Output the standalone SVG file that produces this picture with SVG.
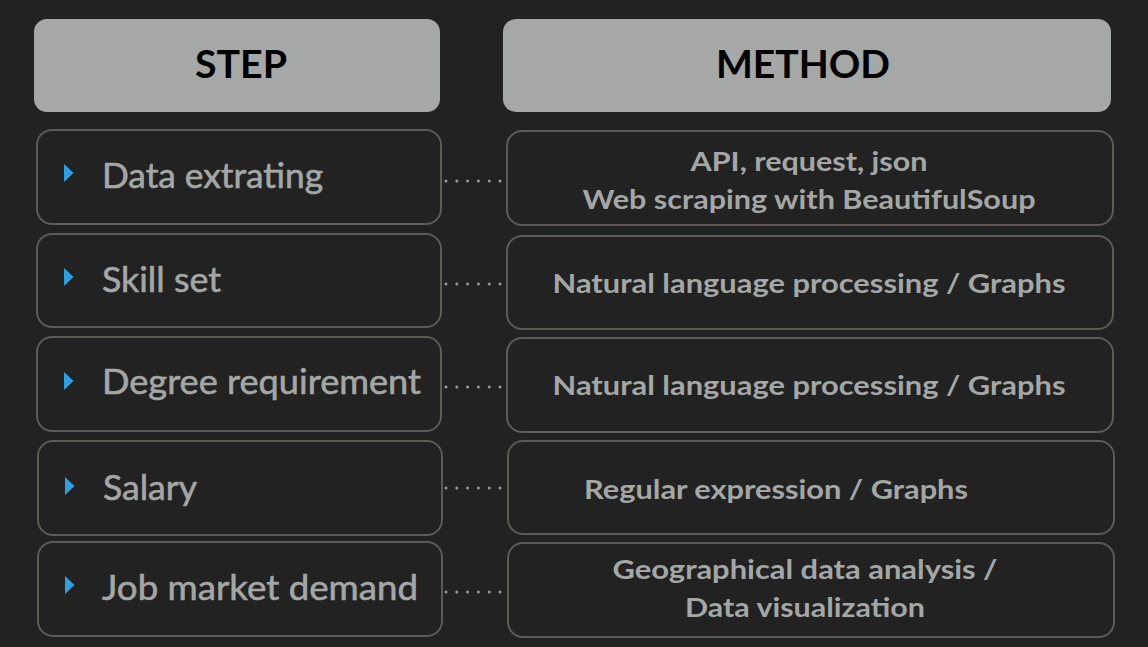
<svg xmlns="http://www.w3.org/2000/svg" width="1148" height="647" viewBox="0 0 1148 647">
<style>
.hdr{fill:#a5a8a7;}
.hdrt{font-family:Lato,"Noto Sans",sans-serif;font-weight:bold;font-size:39px;fill:#000;text-anchor:middle;}
.box{fill:#222222;stroke:#5e5a56;stroke-width:2;}
.st{font-family:Lato,"Noto Sans",sans-serif;font-size:35px;fill:#a4a7a6;stroke:#a4a7a6;stroke-width:0.6;}
.mt{font-family:Lato,"Noto Sans",sans-serif;font-weight:bold;font-size:27px;fill:#a4a7a6;text-anchor:middle;}
.tri{fill:#2f9fdf;}
.dot{stroke:#9a9a9a;stroke-width:3;stroke-linecap:round;stroke-dasharray:0 10.8;fill:none;}
</style>
<rect width="1148" height="647" fill="#222222"/>
<g id="header-step"><rect class="hdr" x="34" y="19" width="406" height="93" rx="13"/><text class="hdrt" x="241" y="78" textLength="92" lengthAdjust="spacingAndGlyphs">STEP</text></g>
<g id="header-method"><rect class="hdr" x="503" y="19" width="608" height="93" rx="13"/><text class="hdrt" x="803" y="78" textLength="174" lengthAdjust="spacingAndGlyphs">METHOD</text></g>

<g id="step-1"><rect class="box" x="37" y="130" width="404" height="94" rx="15"/><path class="tri" d="M64 164 L73.5 173 L64 182 Z"/><text class="st" x="102" y="188" textLength="221" lengthAdjust="spacingAndGlyphs">Data extrating</text></g>
<g id="step-2"><rect class="box" x="37" y="234" width="404" height="93" rx="15"/><path class="tri" d="M64 268 L73.5 277 L64 286 Z"/><text class="st" x="102" y="292" textLength="119" lengthAdjust="spacingAndGlyphs">Skill set</text></g>
<g id="step-3"><rect class="box" x="37" y="337" width="404" height="94" rx="15"/><path class="tri" d="M64 372 L73.5 381 L64 390 Z"/><text class="st" x="102" y="394" textLength="319" lengthAdjust="spacingAndGlyphs">Degree requirement</text></g>
<g id="step-4"><rect class="box" x="38" y="441" width="404" height="94" rx="15"/><path class="tri" d="M65 477 L74.5 486 L65 495 Z"/><text class="st" x="103" y="500" textLength="94" lengthAdjust="spacingAndGlyphs">Salary</text></g>
<g id="step-5"><rect class="box" x="38" y="542" width="404" height="94" rx="15"/><path class="tri" d="M65 576 L74.5 585 L65 594 Z"/><text class="st" x="102" y="600" textLength="316" lengthAdjust="spacingAndGlyphs">Job market demand</text></g>

<g id="method-1"><rect class="box" x="507" y="131" width="606" height="94" rx="15"/><text class="mt" x="809" y="171" textLength="237" lengthAdjust="spacingAndGlyphs">API, request, json</text><text class="mt" x="809" y="209" textLength="453" lengthAdjust="spacingAndGlyphs">Web scraping with BeautifulSoup</text></g>
<g id="method-2"><rect class="box" x="507" y="236" width="606" height="93" rx="15"/><text class="mt" x="809" y="293" textLength="513" lengthAdjust="spacingAndGlyphs">Natural language processing / Graphs</text></g>
<g id="method-3"><rect class="box" x="507" y="338" width="606" height="94" rx="15"/><text class="mt" x="809" y="395" textLength="513" lengthAdjust="spacingAndGlyphs">Natural language processing / Graphs</text></g>
<g id="method-4"><rect class="box" x="508" y="441" width="606" height="93" rx="15"/><text class="mt" x="776" y="499" textLength="384" lengthAdjust="spacingAndGlyphs">Regular expression / Graphs</text></g>
<g id="method-5"><rect class="box" x="508" y="543" width="606" height="94" rx="15"/><text class="mt" x="805" y="579" textLength="385" lengthAdjust="spacingAndGlyphs">Geographical data analysis /</text><text class="mt" x="805" y="617" textLength="240" lengthAdjust="spacingAndGlyphs">Data visualization</text></g>

<g id="connectors">
<line class="dot" x1="446" y1="181" x2="501" y2="181"/>
<line class="dot" x1="446" y1="284" x2="501" y2="284"/>
<line class="dot" x1="446" y1="387" x2="501" y2="387"/>
<line class="dot" x1="446" y1="488" x2="501" y2="488"/>
<line class="dot" x1="446" y1="592" x2="501" y2="592"/>
</g>
</svg>
